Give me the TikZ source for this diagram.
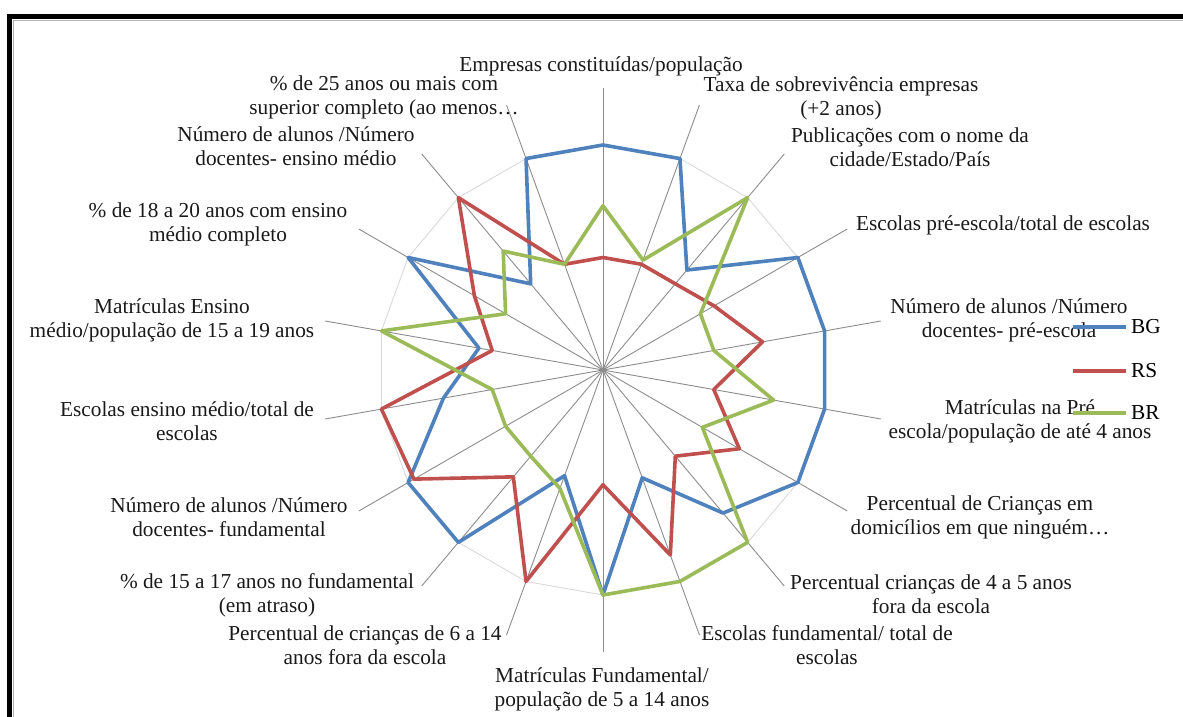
\documentclass[tikz,border=0pt]{standalone}
\usepackage{fontspec}
\setmainfont{Liberation Serif}
\usetikzlibrary{positioning}
\definecolor{bgblue}{HTML}{4F81BD}
\definecolor{rsred}{HTML}{C0504D}
\definecolor{brgreen}{HTML}{9BBB59}
\definecolor{axisgray}{HTML}{8C8C8C}
\definecolor{ringgray}{HTML}{D9D9D9}

\begin{document}
\begin{tikzpicture}[x=1pt,y=1pt,
		axisline/.style={axisgray,line width=0.9pt},
		ringline/.style={ringgray,line width=0.9pt},
		series/.style={line width=3.6pt,line join=round},
		lbl/.style={align=center,inner sep=0pt,text=black!90,font=\fontsize{21.3}{24}\selectfont},
		legtxt/.style={inner sep=0pt,anchor=west,font=\fontsize{21.3}{24}\selectfont}]
		
		\useasboundingbox (-603,-347) rectangle (580,370);
		
		% frame
		\draw[line width=5pt] (-593.5,-347) -- (-593.5,353) -- (580,353);
		\draw[gray!60,line width=1pt] (-589.5,-347) -- (-589.5,349.5) -- (580,349.5);
		
		% axes and grid ring
		\coordinate (c) at (0,0);
		\foreach \i in {0,...,17}
			\draw[axisline] (c) -- ({90-20*\i}:282) coordinate (a\i);
		\draw[ringline] (90:225) \foreach \i in {1,...,17}{ -- ({90-20*\i}:225)} -- cycle;
		
		% series
		\draw[series,bgblue] (90:225)
			\foreach \r [count=\i] in {1,0.58,1,1,1,1,0.83,0.51,1,0.5,1,1,0.72,0.56,1,0.5,1}
			{ -- ({90-20*\i}:{\r*225})} -- cycle;
		\draw[series,rsred] (90:{0.5*225})
			\foreach \r [count=\i] in {0.5,0.5,0.57,0.72,0.5,0.7,0.5,0.875,0.51,1,0.62,0.97,1,0.5,0.66,1,0.5}
			{ -- ({90-20*\i}:{\r*225})} -- cycle;
		\draw[series,brgreen] (90:{0.73*225})
			\foreach \r [count=\i] in {0.52,1,0.5,0.5,0.77,0.51,1,1,1,0.56,0.5,0.5,0.5,1,0.5,0.69,0.5}
			{ -- ({90-20*\i}:{\r*225})} -- cycle;
		
		% axis labels
		\node[lbl] (l0) at (-2,304) {Empresas constituídas/população};
		\node[lbl] (l1) at (238,272) {Taxa de sobrevivência empresas\\(+2 anos)};
		\node[lbl] (l2) at (307,223) {Publicações com o nome da\\cidade/Estado/País};
		\node[lbl] (l3) at (400,145) {Escolas pré-escola/total de escolas};
		\node[lbl] (l4) at (406,50) {Número de alunos /Número\\docentes- pré-escola};
		\node[lbl] (l5) at (417,-51) {Matrículas na Pré\\escola/população de até 4 anos};
		\node[lbl] (l6) at (377,-147) {Percentual de Crianças em\\domicílios em que ninguém…};
		\node[lbl] (l7) at (328,-224) {Percentual crianças de 4 a 5 anos\\fora da escola};
		\node[lbl] (l8) at (224,-275) {Escolas fundamental/ total de\\escolas};
		\node[lbl] (l9) at (-1,-319) {Matrículas Fundamental/\\população de 5 a 14 anos};
		\node[lbl] (l10) at (-238,-275) {Percentual de crianças de 6 a 14\\anos fora da escola};
		\node[lbl] (l11) at (-336,-225) {\% de 15 a 17 anos no fundamental\\(em atraso)};
		\node[lbl] (l12) at (-374,-147) {Número de alunos /Número\\docentes- fundamental};
		\node[lbl] (l13) at (-416,-51) {Escolas ensino médio/total de\\escolas};
		\node[lbl] (l14) at (-431,50) {Matrículas Ensino\\médio/população de 15 a 19 anos};
		\node[lbl] (l15) at (-385,146) {\% de 18 a 20 anos com ensino\\médio completo};
		\node[lbl] (l16) at (-307,224) {Número de alunos /Número\\docentes- ensino médio};
		\node[lbl] (l17) at (-219,273) {\% de 25 anos ou mais com\\superior completo (ao menos…};
		
		% legend
		\coordinate (bgA) at (470,43);
		\coordinate (bgB) at (523,43);
		\coordinate (rsA) at (470,-1);
		\coordinate (rsB) at (523,-1);
		\coordinate (brA) at (470,-43);
		\coordinate (brB) at (523,-43);
		\draw[series,bgblue,line cap=butt] (bgA) -- (bgB);
		\draw[series,rsred] (rsA) -- (rsB);
		\draw[series,brgreen] (brA) -- (brB);
		\node[legtxt,right=5pt of bgB] (bg) {BG};
		\node[legtxt,right=5pt of rsB] (rs) {RS};
		\node[legtxt,right=5pt of brB] (br) {BR};
		
\end{tikzpicture}
\end{document}
